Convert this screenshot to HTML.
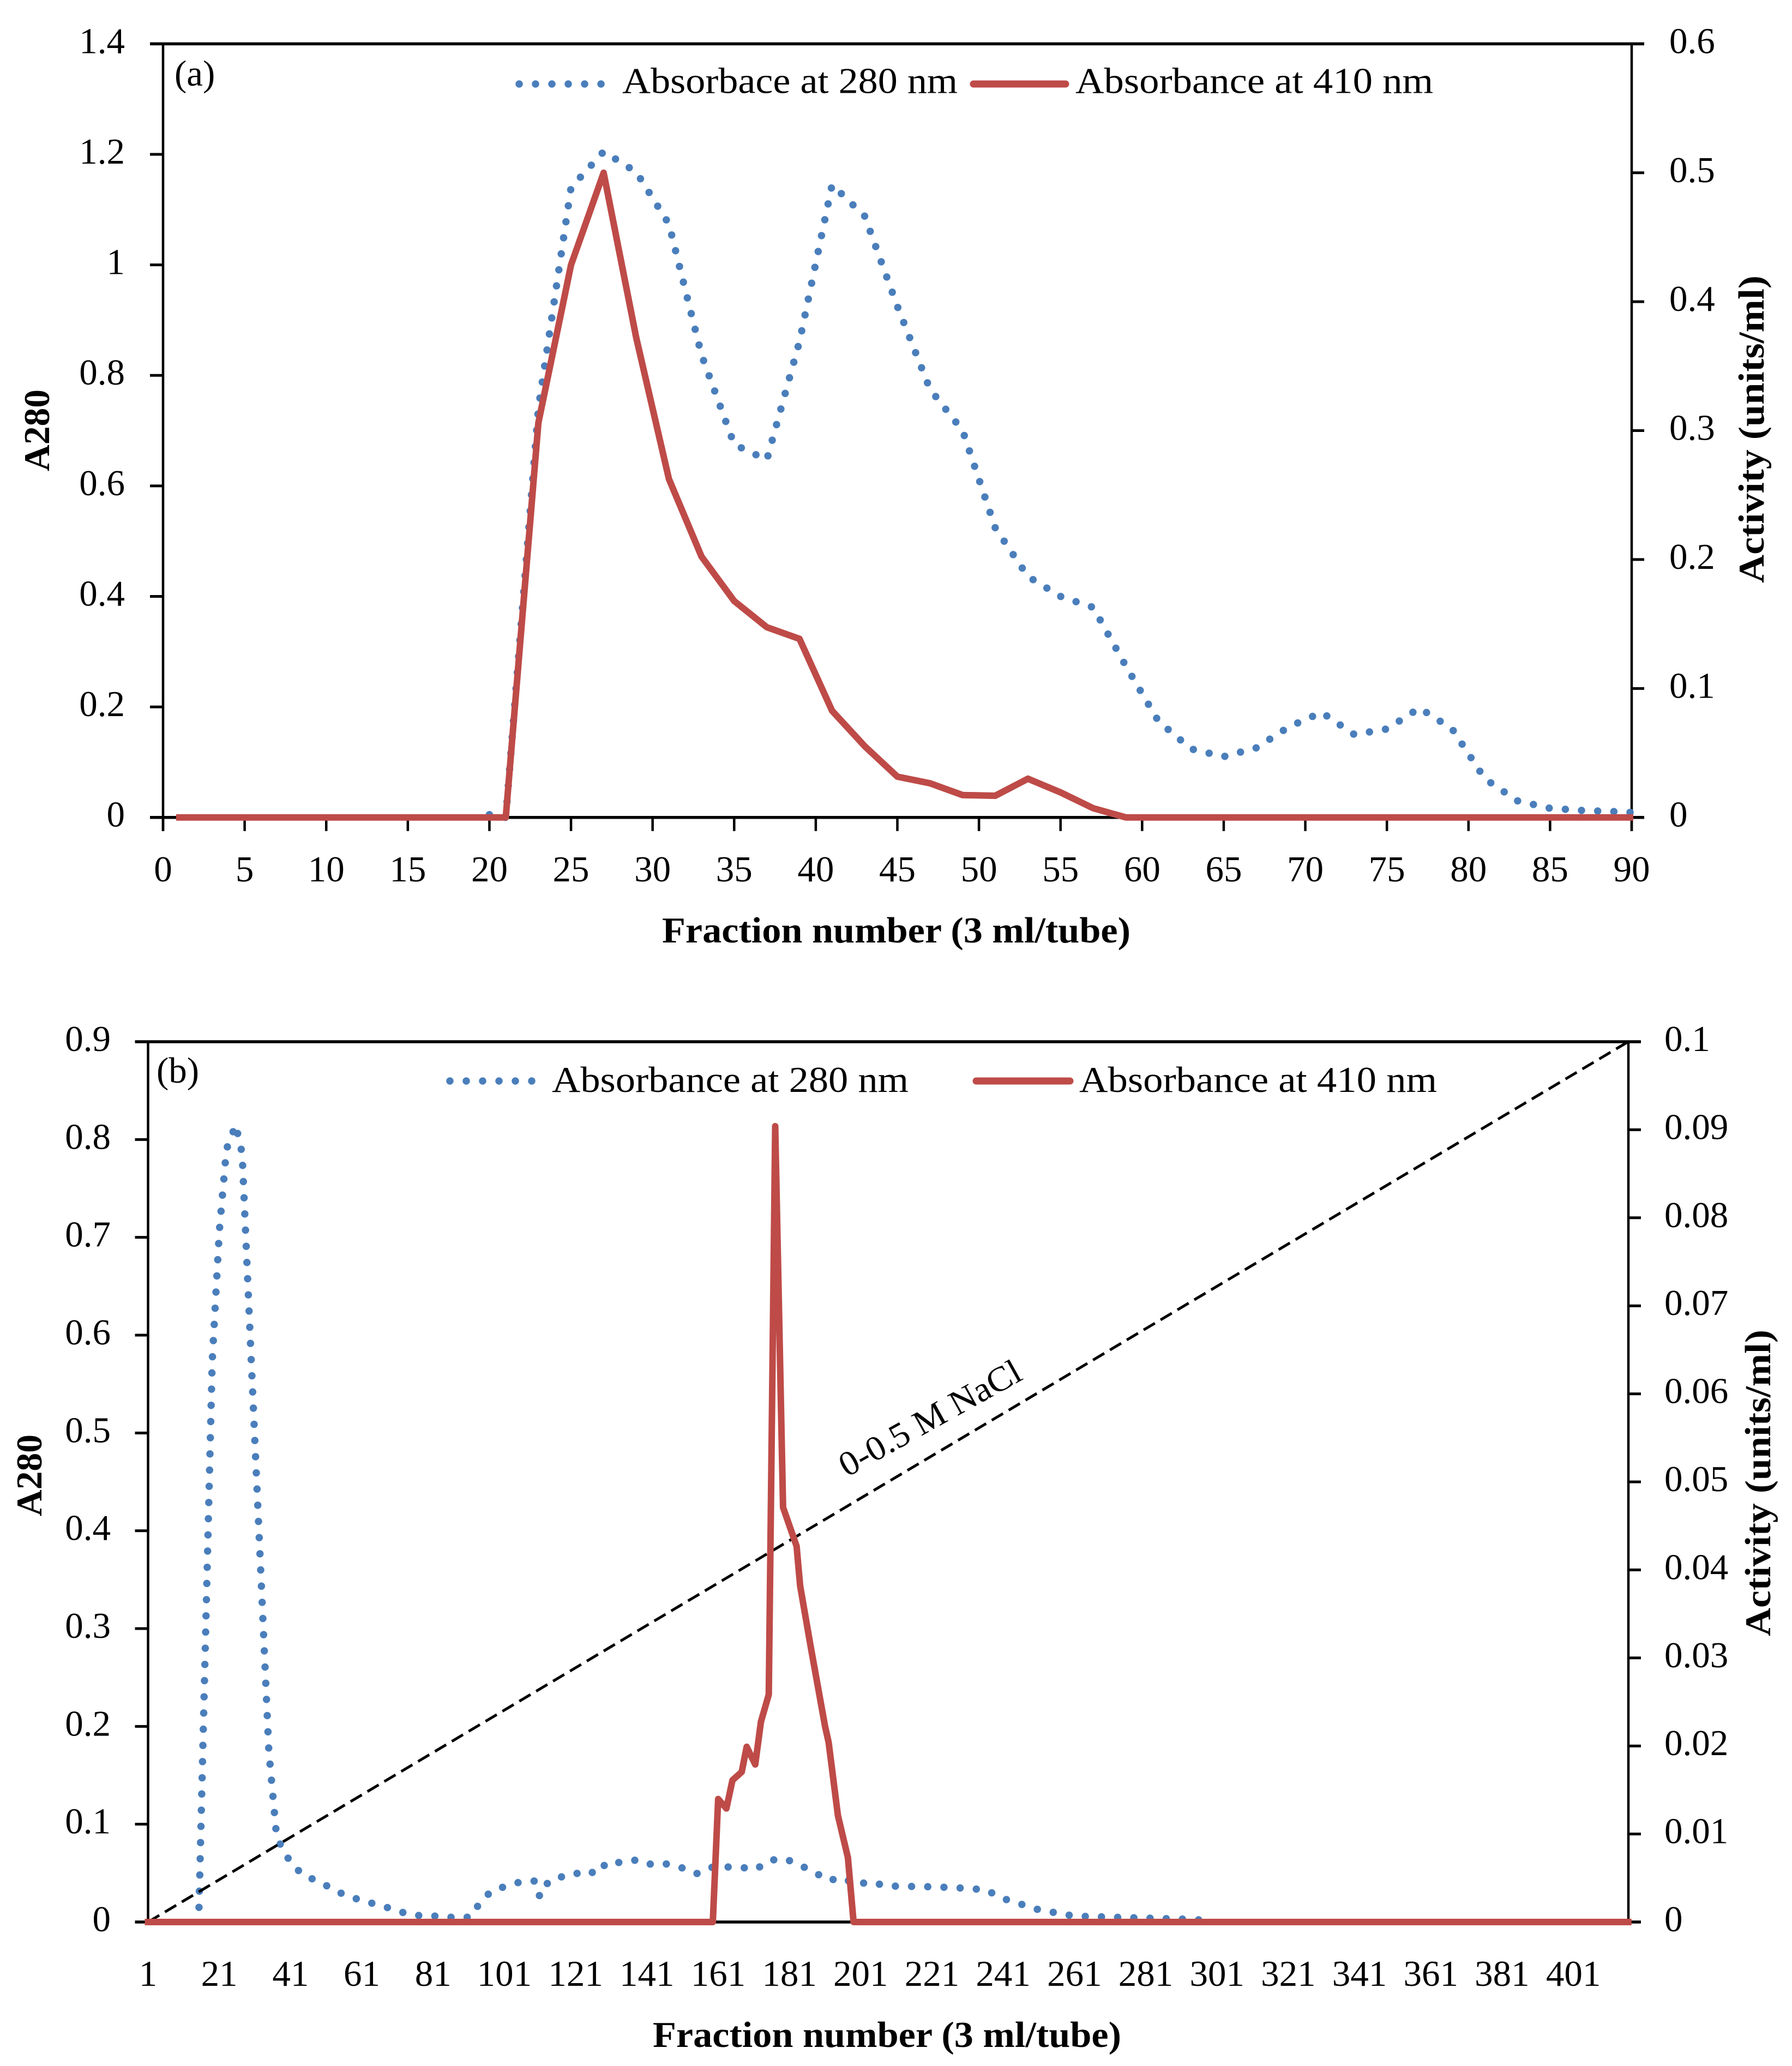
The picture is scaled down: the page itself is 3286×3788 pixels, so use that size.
<!DOCTYPE html>
<html lang="en">
<head>
<meta charset="utf-8">
<title>Fraction absorbance charts</title>
<style>
html,body{margin:0;padding:0;background:#fff;}
svg{display:block;}
text{font-family:"Liberation Serif",serif;fill:#000;}
</style>
</head>
<body>
<svg id="fig" xmlns="http://www.w3.org/2000/svg" width="3286" height="3788" viewBox="0 0 3286 3788">
<rect width="3286" height="3788" fill="#fff"/>
</svg>
<script>
// Panel (a) data
const aXTicks = [0,5,10,15,20,25,30,35,40,45,50,55,60,65,70,75,80,85,90];
const aLeftTicks = [0,0.2,0.4,0.6,0.8,1,1.2,1.4];
const aRightTicks = [0,0.1,0.2,0.3,0.4,0.5,0.6];
const aBlueFractions = [20,21,23,25,27,29,31,33,35,37,39,41,43,45,47,49,51,53,55,57,59,61,63,65,67,69,71,73,75,77,79,81,83,85,87,89,90];
const aBlueValues = [0.005,0,0.74,1.14,1.205,1.168,1.074,0.837,0.675,0.647,0.861,1.145,1.088,0.925,0.775,0.7,0.524,0.436,0.4,0.38,0.274,0.174,0.124,0.11,0.126,0.164,0.19,0.15,0.16,0.198,0.16,0.07,0.03,0.0165,0.0125,0.0105,0.009];
const aRedFractions = [1,21,23,25,27,29,31,33,35,37,39,41,43,45,47,49,51,53,55,57,59,89.9];
const aRedValues = [0,0,0.306,0.4285,0.5,0.372,0.2625,0.2023,0.1678,0.1475,0.1385,0.0827,0.0552,0.0316,0.0265,0.0173,0.0168,0.03,0.0194,0.0071,0,0];

// Panel (b) data
const bXTicks = [1,21,41,61,81,101,121,141,161,181,201,221,241,261,281,301,321,341,361,381,401];
const bLeftTicks = [0,0.1,0.2,0.3,0.4,0.5,0.6,0.7,0.8,0.9];
const bRightTicks = [0,0.01,0.02,0.03,0.04,0.05,0.06,0.07,0.08,0.09,0.1];
const bBlueFractions = [15.3,19,21,23,25.6,27.4,29.9,34.9,37,38.6,41.1,44.3,48.5,52.5,56.3,60.8,65.4,69.5,73.6,78.2,82.6,87.1,91.5,94,97.2,101.1,105.5,109.6,110.9,112.3,115.4,119.5,123.5,127.1,129.8,133.8,138.4,142.3,146.7,151.4,154.9,158.9,163.2,167.5,171.6,175.4,179.8,184,188.1,191.9,195.8,199.6,203.8,208.2,221,228,236,241,251,261,271,281,291,297];
const bBlueValues = [0.015,0.573,0.7066,0.79,0.815,0.7858,0.579,0.1746,0.0904,0.0747,0.0608,0.0485,0.0418,0.0346,0.0273,0.0223,0.0176,0.0134,0.0084,0.0061,0.0061,0.0045,0.005,0.019,0.0312,0.0363,0.041,0.042,0.0262,0.0374,0.0457,0.0468,0.053,0.0491,0.0613,0.0608,0.0636,0.0588,0.0594,0.0548,0.0494,0.0558,0.0563,0.0558,0.0538,0.0632,0.0647,0.058,0.0508,0.0424,0.0454,0.0385,0.041,0.0368,0.036,0.035,0.033,0.024,0.0125,0.006,0.005,0.004,0.003,0.002];
const bRedFractions = [1,159.5,161,163.3,165,167.6,169,171.4,173,175.2,177,179.2,183,184,187,191,192,194.6,197.4,199,416.4];
const bRedValues = [0,0,0.01397,0.0129,0.0161,0.01705,0.0199,0.0179,0.02274,0.02584,0.0904,0.0471,0.0427,0.0382,0.0312,0.0222,0.0204,0.0121,0.00733,0,0];
const bSaltFractions = [1,416.4];
const bSaltValues = [0,0.5];

const NS = 'http://www.w3.org/2000/svg';
const svg = document.getElementById('fig');
const BLUE = '#4a7ebb';
const RED = '#be4b48';

function mk(tag, attrs, parent) {
  const el = document.createElementNS(NS, tag);
  for (const k in attrs) el.setAttribute(k, attrs[k]);
  (parent || svg).appendChild(el);
  return el;
}
function txt(str, attrs, parent) {
  const el = mk('text', attrs, parent);
  el.textContent = str;
  return el;
}
function pts(xs, ys, sx, sy) {
  return xs.map((f, i) => sx(f).toFixed(1) + ',' + sy(ys[i]).toFixed(1)).join(' ');
}

function drawPanel(o) {
  const g = mk('g', {});
  
  

  // top frame, bottom axis, left and right axes
  const frame = mk('g', {stroke:'#000', fill:'none'}, g);
  
  
  mk('line', {x1:o.L-24, x2:o.R+23, y1:o.T, y2:o.T, 'stroke-width':5.5}, frame);
  mk('line', {x1:o.L-24, x2:o.R+23, y1:o.B, y2:o.B, 'stroke-width':5.5}, frame);
  mk('line', {x1:o.L, x2:o.L, y1:o.T, y2:o.B+o.xTickLen, 'stroke-width':4.5}, frame);
  mk('line', {x1:o.R, x2:o.R, y1:o.T, y2:o.B+o.xTickLen, 'stroke-width':4.5}, frame);

  // left axis ticks & labels
  o.leftTicks.forEach(v => {
    const y = o.sL(v);
    const t = mk('line', {x1:o.L-24, x2:o.L, y1:y, y2:y, stroke:'#000', 'stroke-width':5}, g);
    
    
    const l = txt(String(v), {x:o.leftLabelX, y:y+17, 'font-size':o.fs, 'text-anchor':'end'}, g);
    
    
  });
  // right axis ticks & labels
  o.rightTicks.forEach(v => {
    const y = o.sR(v);
    const t = mk('line', {x1:o.R, x2:o.R+23, y1:y, y2:y, stroke:'#000', 'stroke-width':5}, g);
    
    
    const l = txt(String(v), {x:o.rightLabelX, y:y+17, 'font-size':o.fs}, g);
    
    
  });
  // x axis ticks & labels
  o.xTicks.forEach(v => {
    const x = o.sX(v);
    if (o.xTickLen) {
      const t = mk('line', {x1:x, x2:x, y1:o.B, y2:o.B+o.xTickLen, stroke:'#000', 'stroke-width':4.5}, g);
      
      
    }
    const l = txt(String(v), {x:x, y:o.xLabelY, 'font-size':o.fs, 'text-anchor':'middle'}, g);
    
    
  });

  // series: blue
  const blue = mk('polyline', {points:pts(o.blueX, o.blueY, o.sX, o.sL), fill:'none', stroke:BLUE, 'stroke-width':13.5, 'stroke-linecap':'round', 'stroke-dasharray':'0 29.7'}, g);
  
  

  // optional salt gradient
  if (o.saltX) {
    const sSalt = v => o.B - v / 0.5 * (o.B - o.T);
    const salt = mk('polyline', {points:pts(o.saltX, o.saltY, o.sX, sSalt), fill:'none', stroke:'#000', 'stroke-width':5, 'stroke-dasharray':'24 12'}, g);
    
    
  }

  // series: red
  const red = mk('polyline', {points:pts(o.redX, o.redY, o.sX, o.sR), fill:'none', stroke:RED, 'stroke-width':12, 'stroke-linejoin':'round', 'stroke-linecap':'square'}, g);
  
  

  // legend
  const d = mk('line', {x1:o.leg.d1, x2:o.leg.d2, y1:o.leg.y, y2:o.leg.y, stroke:BLUE, 'stroke-width':13.5, 'stroke-linecap':'round', 'stroke-dasharray':'0 30'}, g);
  
  
  const t1 = txt(o.leg.t1, {x:o.leg.t1x, y:o.leg.base, 'font-size':o.fs, textLength:o.leg.t1w, lengthAdjust:'spacingAndGlyphs'}, g);
  
  
  const r = mk('line', {x1:o.leg.r1, x2:o.leg.r2, y1:o.leg.y, y2:o.leg.y, stroke:RED, 'stroke-width':13, 'stroke-linecap':'round'}, g);
  
  
  const t2 = txt(o.leg.t2, {x:o.leg.t2x, y:o.leg.base, 'font-size':o.fs, textLength:o.leg.t2w, lengthAdjust:'spacingAndGlyphs'}, g);
  
  

  // panel label and titles
  const pl = txt(o.panel, {x:o.panelX, y:o.panelY, 'font-size':o.fs}, g);
  
  
  const xt = txt('Fraction number (3 ml/tube)', {x:o.xTitleX, y:o.xTitleY, 'font-size':o.fs, 'font-weight':'bold', textLength:o.xTitleW, lengthAdjust:'spacingAndGlyphs'}, g);
  
  
  const yl = txt('A280', {transform:'translate(' + o.yLX + ',' + o.yLY + ') rotate(-90)', 'font-size':o.fs, 'font-weight':'bold', textLength:o.yLW, lengthAdjust:'spacingAndGlyphs'}, g);
  
  
  const yr = txt('Activity (units/ml)', {transform:'translate(' + o.yRX + ',' + o.yRY + ') rotate(-90)', 'font-size':o.fs, 'font-weight':'bold', textLength:o.yRW, lengthAdjust:'spacingAndGlyphs'}, g);
  
  
  return g;
}

// Panel (a)
(function(){
  const L=299, R=2992, T=80.4, B=1498.7;
  drawPanel({
    name:'panel-a-chart', L, R, T, B, fs:67, xTickLen:25,
    sX:f=>L+f*(R-L)/90,
    sL:v=>B-v/1.4*(B-T),
    sR:v=>B-v/0.6*(B-T),
    leftTicks:aLeftTicks, rightTicks:aRightTicks, xTicks:aXTicks,
    leftLabelX:229, rightLabelX:3061, xLabelY:1616,
    blueX:aBlueFractions, blueY:aBlueValues, redX:aRedFractions, redY:aRedValues,
    leg:{y:154, base:170.5, d1:952, d2:1103, t1:'Absorbace at 280 nm', t1x:1141, t1w:615, r1:1785, r2:1954, t2:'Absorbance at 410 nm', t2x:1972, t2w:656},
    panel:'(a)', panelX:320, panelY:157,
    xTitleX:1214, xTitleY:1728, xTitleW:859,
    yLX:90, yLY:864, yLW:150,
    yRX:3234, yRY:1069, yRW:564
  });
})();

// Panel (b)
(function(){
  const L=271.5, R=2986, T=1910, B=3524, STEP=6.534;
  drawPanel({
    name:'panel-b-chart', L, R, T, B, fs:67, xTickLen:0,
    sX:f=>L+(f-1)*STEP,
    sL:v=>B-v/0.9*(B-T),
    sR:v=>B-v/0.1*(B-T),
    leftTicks:bLeftTicks, rightTicks:bRightTicks, xTicks:bXTicks,
    leftLabelX:203, rightLabelX:3052, xLabelY:3641,
    blueX:bBlueFractions, blueY:bBlueValues, redX:bRedFractions, redY:bRedValues,
    saltX:bSaltFractions, saltY:bSaltValues,
    leg:{y:1982, base:2002, d1:825, d2:976, t1:'Absorbance at 280 nm', t1x:1012, t1w:654, r1:1790, r2:1962, t2:'Absorbance at 410 nm', t2x:1979, t2w:656},
    panel:'(b)', panelX:287, panelY:1985,
    xTitleX:1197, xTitleY:3753, xTitleW:859,
    yLX:76, yLY:2780, yLW:150,
    yRX:3246, yRY:3000, yRW:562
  });
  const nacl = txt('0-0.5 M NaCl', {transform:'translate(1553,2709) rotate(-29.1)', 'font-size':64, textLength:372, lengthAdjust:'spacingAndGlyphs'});
  
  
})();
</script>
</body>
</html>
